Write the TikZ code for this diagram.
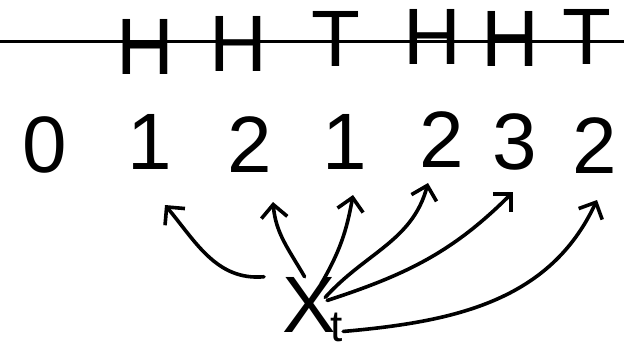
\documentclass[tikz,border=0pt]{standalone}
\usepackage{fontspec}
\setsansfont{Liberation Sans}
\usetikzlibrary{arrows.meta}

\begin{document}
\begin{tikzpicture}[
  x=1pt,y=1pt,
  font=\sffamily\fontsize{80}{80}\selectfont,
  flip/.style={anchor=base,inner sep=0pt},
  count/.style={anchor=base,inner sep=0pt},
  arr/.style={-{Straight Barb[length=13pt,width=26pt]},line width=3.6pt,line cap=round},
]
  \useasboundingbox (0,0) rectangle (624,354);
  \draw[line width=3pt] (0,312) -- (624,312);
  \node[flip] (c1) at (145,279) {H};
  \node[flip] (c2) at (238,282) {H};
  \node[flip] (c3) at (336,287) {T};
  \node[flip] (c4) at (432,289) {H};
  \node[flip] (c5) at (510,287) {H};
  \node[flip] (c6) at (587,289) {T};
  \node[count] (n0) at (45,182) {0};
  \node[count] (n1) at (150,184) {1};
  \node[count] (n2) at (250,181) {2};
  \node[count] (n3) at (345,184) {1};
  \node[count] (n4) at (442,186) {2};
  \node[count] (n5) at (515,184) {3};
  \node[count] (n6) at (595,180) {2};
  \node[inner sep=0pt,anchor=base west] (xt) at (282,22)
    {X\kern-0.06em\raisebox{-0.12em}{\fontsize{44}{44}\selectfont t}};
  \coordinate (t1) at (165,149);
  \coordinate (t2) at (273,152);
  \coordinate (t3) at (353,159);
  \coordinate (t4) at (428,171);
  \coordinate (t5) at (513,162);
  \coordinate (t6) at (597,154);
  \draw[arr] ([xshift=-18pt]xt.north west) to[out=185,in=-50] (t1);
  \draw[arr] ([xshift=-8pt]xt.north) to[out=120,in=-85] (t2);
  \draw[arr] ([xshift=-22pt,yshift=-7pt]xt.north east) to[out=60,in=-100] (t3);
  \draw[arr] ([xshift=-18pt,yshift=12pt]xt.east) to[out=48,in=-105] (t4);
  \draw[arr] ([xshift=-16pt,yshift=9pt]xt.east) to[out=18,in=-135] (t5);
  \draw[arr] ([yshift=-22pt]xt.east) to[out=5,in=-115] (t6);
\end{tikzpicture}
\end{document}
